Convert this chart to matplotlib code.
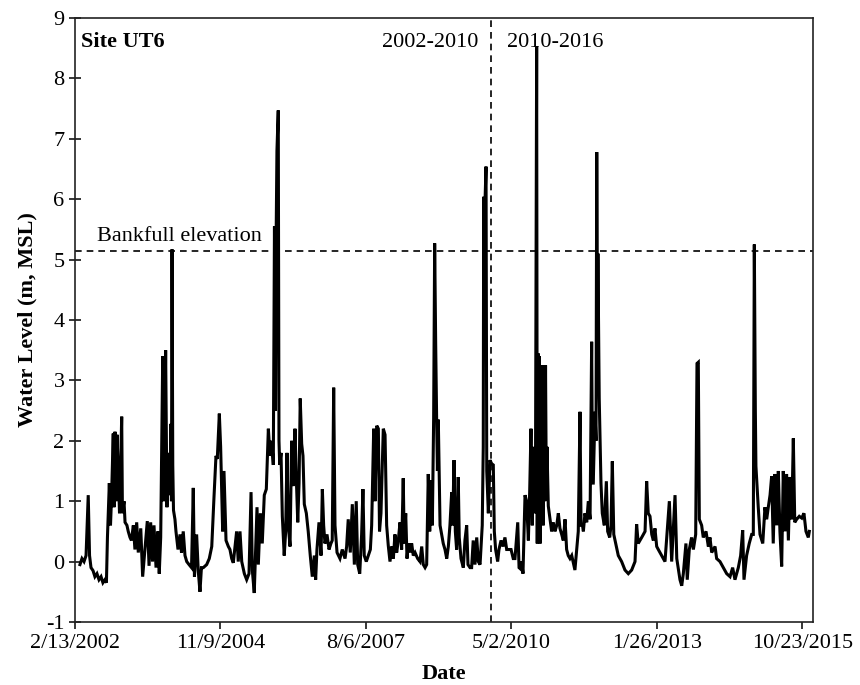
import matplotlib
matplotlib.use("Agg")
import matplotlib.pyplot as plt
import pandas as pd

# days after 2/13/2002
days = [
    34, 48, 62, 76, 91, 100, 110, 124, 137, 151, 165, 179, 192, 206, 216, 223,
    236, 244, 251, 263, 268, 275, 282, 289, 298, 306, 313, 321, 326, 337, 344,
    357, 366, 378, 388, 401, 412, 424, 435, 452, 465, 481, 497, 509, 520, 533,
    543, 557, 570, 579, 589, 603, 608, 615, 623, 632, 639, 646, 654, 658, 663,
    667, 672, 677, 687, 694, 708, 722, 732, 744, 756, 768, 784, 801, 813, 821,
    836, 847, 859, 869, 882, 905, 923, 940, 955, 969, 978, 992, 1001, 1015, 1024,
    1038, 1054,
    1065, 1077, 1088, 1111, 1122, 1134, 1146, 1164, 1180, 1196, 1210, 1219, 1232,
    1242, 1251, 1260, 1274, 1287, 1301, 1315, 1329, 1340, 1352, 1363, 1371, 1378,
    1383, 1388, 1397, 1402, 1407, 1416, 1425, 1438, 1448, 1457, 1466, 1478, 1489,
    1500, 1512, 1521, 1531, 1540, 1548, 1558, 1567, 1576, 1590, 1603, 1617, 1631,
    1645, 1654, 1663, 1677, 1691, 1700, 1709, 1718, 1732, 1746, 1759, 1768, 1778,
    1787, 1801, 1821, 1837, 1856, 1867, 1878, 1892, 1906, 1920, 1933, 1943, 1957,
    1970, 1979, 1988, 2002, 2016, 2030, 2039, 2053, 2062, 2074, 2085, 2093, 2103,
    2119, 2131, 2142, 2153, 2165,
    2177, 2188, 2199, 2211, 2222, 2234, 2245, 2256, 2263, 2273, 2282, 2291, 2302,
    2314, 2325, 2337, 2355, 2371, 2383, 2394, 2406, 2417, 2428, 2438, 2447, 2456,
    2465, 2472, 2479, 2486, 2491, 2497, 2509, 2520, 2531, 2543, 2555, 2566, 2577,
    2589, 2596, 2605, 2614, 2623, 2634, 2641, 2653, 2669, 2680, 2692, 2701, 2715,
    2726, 2737, 2749, 2761, 2772, 2784, 2799, 2806, 2809, 2814, 2819, 2825, 2830,
    2841, 2852, 2864, 2875, 2882, 2891, 2905, 2914, 2928, 2942, 2955, 2967, 2978,
    2997, 3012, 3024, 3043, 3052, 3061, 3070, 3079, 3093, 3104, 3116, 3125, 3134,
    3143, 3151, 3157, 3165,
    3173, 3177, 3182, 3187, 3192, 3197, 3203, 3208, 3213, 3218, 3223, 3229, 3234,
    3239, 3244, 3253, 3265, 3276, 3287, 3299, 3311, 3322, 3333, 3345, 3356, 3368,
    3379, 3390, 3402, 3414, 3425, 3436, 3448, 3459, 3471, 3478, 3488, 3494, 3505,
    3517, 3528, 3540, 3551, 3557, 3562, 3574, 3581, 3586, 3591, 3594, 3603, 3615,
    3624, 3638, 3652, 3661, 3675, 3684, 3693, 3703, 3716, 3734, 3757, 3780, 3803,
    3826, 3849, 3860, 3871, 3895, 3918, 3929, 3940, 3952, 3964, 3975, 3986, 3998,
    4009, 4032, 4055, 4085, 4101, 4124, 4136, 4158, 4170,
    4181, 4199, 4208, 4222, 4238, 4250, 4266, 4275, 4284, 4291, 4307, 4318, 4337,
    4353, 4364, 4376, 4399, 4410, 4433, 4456, 4479, 4502, 4520, 4536, 4559, 4575,
    4589, 4598, 4616, 4634, 4651, 4662, 4669, 4676, 4680, 4696, 4708, 4727, 4742,
    4754, 4765, 4777, 4788, 4799, 4811, 4823, 4834, 4845, 4857, 4868, 4880, 4891,
    4903, 4914, 4926, 4937, 4947, 4960, 4978, 4995, 5010, 5024, 5040, 5047,
]

level = [
    -0.05, 0.05, 0.0, 0.1, 1.1, 0.1, -0.1, -0.15, -0.25, -0.2, -0.3, -0.25, -0.35,
    -0.3, -0.35, 0.4, 1.3, 0.6, 1.05, 2.12, 0.9, 2.15, 1.0, 2.1, 1.45, 0.8, 1.5,
    2.4, 0.8, 1.0, 0.65, 0.6, 0.5, 0.4, 0.35, 0.6, 0.2, 0.65, 0.15, 0.55, -0.25,
    0.2, 0.67, -0.07, 0.65, 0.0, 0.6, -0.1, 0.5, -0.2, 0.4, 3.4, 1.0, 1.6, 3.5,
    0.9, 1.6, 1.8, 1.1, 2.28, 1.0, 5.17, 1.6, 0.85, 0.7, 0.5, 0.2, 0.45, 0.15,
    0.5, 0.1, 0.0, -0.05, -0.1, 1.22, -0.25, 0.45, -0.15, -0.5, -0.1, -0.1,
    -0.05, 0.05, 0.25, 1.05, 1.75, 1.7, 2.45, 1.9, 0.5, 1.5, 0.35, 0.25,
    0.2, 0.05, -0.02, 0.5, 0.0, 0.5, 0.0, -0.2, -0.3, -0.2, 1.15, -0.15, -0.52,
    0.2, 0.9, -0.05, 0.8, 0.3, 1.1, 1.2, 2.2, 1.75, 2.0, 1.6, 5.55, 2.5, 5.5,
    6.8, 7.47, 2.0, 1.6, 1.8, 0.75, 0.1, 0.5, 1.8, 0.6, 0.25, 2.0, 1.25, 2.2,
    1.4, 0.65, 1.3, 2.7, 1.95, 1.75, 0.95, 0.8, 0.5, 0.1, -0.25, 0.1, -0.3, 0.2,
    0.65, 0.1, 1.2, 0.6, 0.3, 0.45, 0.2, 0.3, 0.35, 2.88, 0.6, 0.15, 0.05, 0.2,
    0.05, 0.25, 0.7, 0.15, 0.95, -0.05, 1.0, -0.05, -0.2, 0.45, 1.2, 0.1, 0.0,
    0.1, 0.2, 0.6, 2.2, 1.0, 2.25, 2.2, 0.5, 0.8, 2.2, 2.1, 0.6, 0.27, 0.0,
    0.25, 0.05, 0.45, 0.15, 0.35, 0.65, 0.2, 1.38, 0.3, 0.8, 0.05, 0.3, 0.15,
    0.3, 0.1, 0.15, 0.05, 0.0, 0.25, -0.05, -0.1, -0.05, 1.45, 0.5, 1.35, 0.6,
    2.37, 5.27, 3.6, 2.28, 1.5, 2.35, 0.6, 0.45, 0.3, 0.2, 0.05, 0.25, 0.6,
    1.15, 0.6, 1.68, 0.5, 0.2, 1.4, 0.4, 0.05, -0.1, 0.35, 0.6, -0.05, -0.1,
    -0.1, 0.35, -0.05, 0.4, 0.0, -0.05, 0.6, 1.9, 6.04, 3.5, 6.04, 6.54, 1.5,
    0.8, 1.68, 1.62, 1.6, 0.5, 0.2, 0.0, 0.2, 0.35, 0.25, 0.4, 0.2, 0.2,
    0.2, 0.05, 0.05, 0.65, -0.1, -0.12, 0.0, -0.2, 1.1, 1.0, 0.35, 1.15, 2.2,
    0.6, 1.9, 0.8, 1.4,
    8.53, 0.3, 3.45, 0.5, 3.4, 0.3, 3.1, 0.8, 3.25, 0.6, 3.23, 1.0, 3.25,
    1.3, 1.9, 0.92, 0.7, 0.5, 0.65, 0.5, 0.6, 0.8, 0.55, 0.45, 0.35, 0.7,
    0.2, 0.1, 0.05, 0.1, -0.02, -0.14, 0.2, 0.5, 2.48, 0.6, 0.6, 0.5, 0.8,
    0.65, 1.0, 0.7, 3.64, 1.3, 1.3, 2.48, 2.0, 6.78, 4.0, 5.1, 2.7, 1.3,
    0.8, 0.6, 1.33, 0.5, 0.4, 0.6, 1.66, 0.45, 0.3, 0.1, 0.0, -0.14, -0.2,
    -0.14, 0.0, 0.62, 0.3, 0.4, 0.5, 1.33, 0.8, 0.75, 0.45, 0.35, 0.55, 0.25,
    0.2, 0.1, 0.0, 1.0, 0.0, 1.1, 0.05, -0.3, -0.4,
    -0.2, 0.3, -0.3, 0.2, 0.4, 0.2, 0.45, 3.28, 3.3, 0.7, 0.6, 0.4, 0.5,
    0.25, 0.4, 0.15, 0.25, 0.05, 0.0, -0.1, -0.2, -0.25, -0.1, -0.3, -0.1, 0.1,
    0.52, -0.3, 0.1, 0.3, 0.45, 0.45, 5.25, 2.5, 1.58, 0.9, 0.45, 0.3, 0.9,
    0.7, 0.9, 1.1, 1.41, 0.3, 1.45, 0.6, 1.5, 0.5, -0.08, 1.5, 0.5, 1.45,
    0.35, 1.4, 0.7, 2.04, 0.65, 0.7, 0.75, 0.72, 0.8, 0.5, 0.4, 0.5,
]

start = pd.Timestamp("2002-02-13")
tick_days = [0, 1000, 2000, 3000, 4000, 5000]
bankfull = 5.15
split_date = pd.Timestamp("2009-12-15")

dates = start + pd.to_timedelta(days, unit="D")
ticks = [start + pd.Timedelta(days=d) for d in tick_days]

plt.rcParams["font.family"] = ["Liberation Serif", "DejaVu Serif"]
plt.rcParams["axes.unicode_minus"] = False

fig = plt.figure(figsize=(8.6, 6.85), dpi=100)
ax = fig.add_axes([0.0872, 0.092, 0.8581, 0.8817])

ax.plot(dates, level, color="black", lw=2.2, solid_joinstyle="miter")
ax.axhline(bankfull, color="black", lw=1.2, ls=(0, (4, 3)))
ax.axvline(split_date, color="black", lw=1.2, ls=(0, (4, 3)))

ax.set_xlim(start, start + pd.Timedelta(days=5072))
ax.set_ylim(-1, 9)
ax.set_yticks(range(-1, 10))
ax.set_xticks(ticks)
ax.set_xticklabels([f"{t.month}/{t.day}/{t.year}" for t in ticks])

ax.tick_params(axis="both", labelsize=16, length=5, width=1.1, colors="black")
ax.tick_params(axis="y", direction="inout", length=8)
for s in ax.spines.values():
    s.set_linewidth(1.2)
    s.set_color("#222222")

ax.set_ylabel("Water Level (m, MSL)", fontsize=16, fontweight="bold", labelpad=6)
ax.set_xlabel("Date", fontsize=16, fontweight="bold", labelpad=8)

ax.text(0.008, 0.96, "Site UT6", transform=ax.transAxes, fontsize=16,
        fontweight="bold", va="center", ha="left")
ax.text(split_date - pd.Timedelta(days=90), 8.6, "2002-2010", fontsize=16,
        ha="right", va="center")
ax.text(split_date + pd.Timedelta(days=110), 8.6, "2010-2016", fontsize=16,
        ha="left", va="center")
ax.text(start + pd.Timedelta(days=150), bankfull + 0.08, "Bankfull elevation",
        fontsize=16, ha="left", va="bottom")

fig.savefig("out.png", dpi=100)
